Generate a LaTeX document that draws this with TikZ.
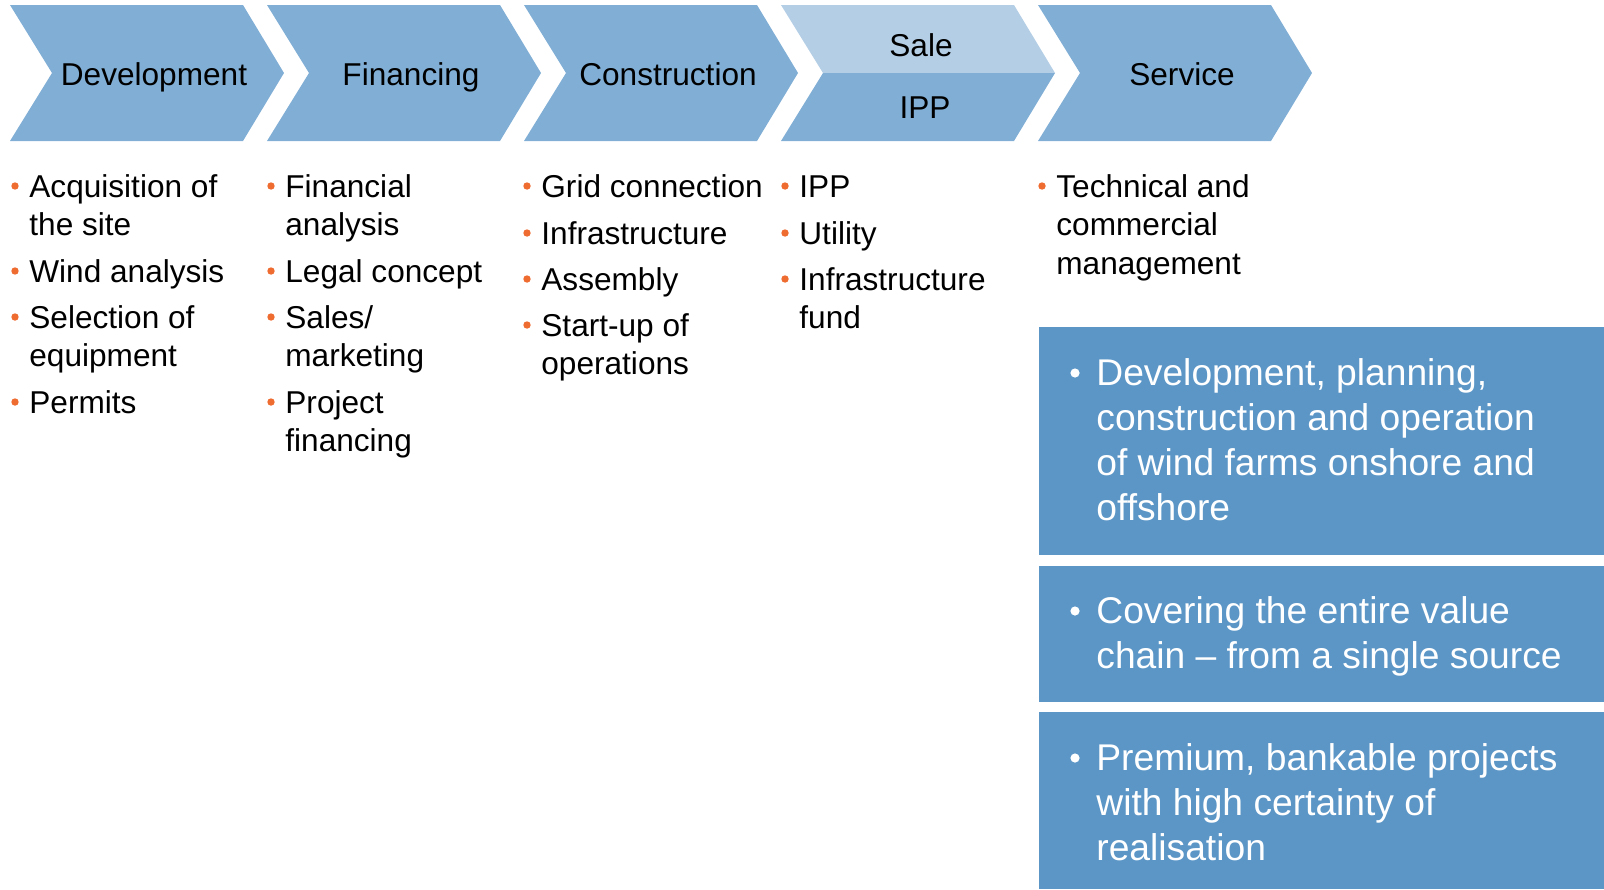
\documentclass[tikz,border=0pt]{standalone}
\usepackage{fontspec}
\setmainfont{Liberation Sans}
\definecolor{chevblue}{RGB}{128,174,213}
\definecolor{saleblue}{RGB}{180,206,229}
\definecolor{boxblue}{RGB}{91,150,199}
\definecolor{dotorange}{RGB}{238,108,48}

% one bullet point below a phase: name, text x, first baseline, number of lines, text
% (the base anchor of a multi-line node sits on its last line)
\newcommand\phaseitem[5]{%
  \fill[dotorange] (#2-14,#3-11) circle (1.85pt);
  \node[listtext] (#1) at (#2,{#3+(#4-1)*38.5}) {#5};
}
% one white bullet point inside a summary box: name, first baseline, number of lines, text
\newcommand\summaryitem[4]{%
  \fill[white] (1075,#2-12) circle (2.3pt);
  \node[boxtext] (#1) at (1096,{#2+(#3-1)*45}) {#4};
}

\begin{document}
\begin{tikzpicture}[x=0.5pt,y=-0.5pt,
  chevlabel/.style={anchor=base,inner sep=0pt,font=\fontsize{15.8}{19}\selectfont},
  listtext/.style={anchor=base west,align=left,inner sep=0pt,font=\fontsize{15.8}{19.25}\selectfont},
  boxtext/.style={anchor=base west,align=left,inner sep=0pt,text=white,font=\fontsize{18.6}{22.5}\selectfont}]
\useasboundingbox (0,0) rectangle (1604,889);

% phase chevrons
\foreach \L/\nm/\lab in {10/dev/Development,267/fin/Financing,524/con/Construction,1038/ser/Service}{
  \fill[chevblue] (\L,5) -- ++(233,0) -- ++(41,68) -- ++(-41,68) -- ++(-233,0) -- ++(42,-68) -- cycle;
  \node[chevlabel] (\nm) at (\L+144,85) {\lab};
}
% split chevron: Sale above, IPP below
\fill[saleblue] (781,5) -- (1014,5) -- (1055,73) -- (823,73) -- cycle;
\fill[chevblue] (823,73) -- (1055,73) -- (1014,141) -- (781,141) -- cycle;
\node[chevlabel] (sale) at (921,56) {Sale};
\node[chevlabel] (ipp) at (925,118) {IPP};

% Development
\phaseitem{dev1}{29}{197}{2}{Acquisition of\\the site}
\phaseitem{dev2}{29}{282}{1}{Wind analysis}
\phaseitem{dev3}{29}{328}{2}{Selection of\\equipment}
\phaseitem{dev4}{29}{413}{1}{Permits}
% Financing
\phaseitem{fin1}{285}{197}{2}{Financial\\analysis}
\phaseitem{fin2}{285}{282}{1}{Legal concept}
\phaseitem{fin3}{285}{328}{2}{Sales/\\marketing}
\phaseitem{fin4}{285}{413}{2}{Project\\financing}
% Construction
\phaseitem{con1}{541}{197}{1}{Grid connection}
\phaseitem{con2}{541}{244}{1}{Infrastructure}
\phaseitem{con3}{541}{290}{1}{Assembly}
\phaseitem{con4}{541}{336}{2}{Start-up of\\operations}
% Sale
\phaseitem{sal1}{799}{197}{1}{IPP}
\phaseitem{sal2}{799}{244}{1}{Utility}
\phaseitem{sal3}{799}{290}{2}{Infrastructure\\fund}
% Service
\phaseitem{ser1}{1056}{197}{3}{Technical and\\commercial\\management}

% summary boxes
\fill[boxblue] (1039,327) rectangle (1604,555);
\fill[boxblue] (1039,566) rectangle (1604,702);
\fill[boxblue] (1039,712) rectangle (1604,889);
\summaryitem{sum1}{385}{4}{Development, planning,\\construction and operation\\of wind farms onshore and\\offshore}
\summaryitem{sum2}{623}{2}{Covering the entire value\\chain \textendash{} from a single source}
\summaryitem{sum3}{770}{3}{Premium, bankable projects\\with high certainty of\\realisation}
\end{tikzpicture}
\end{document}
